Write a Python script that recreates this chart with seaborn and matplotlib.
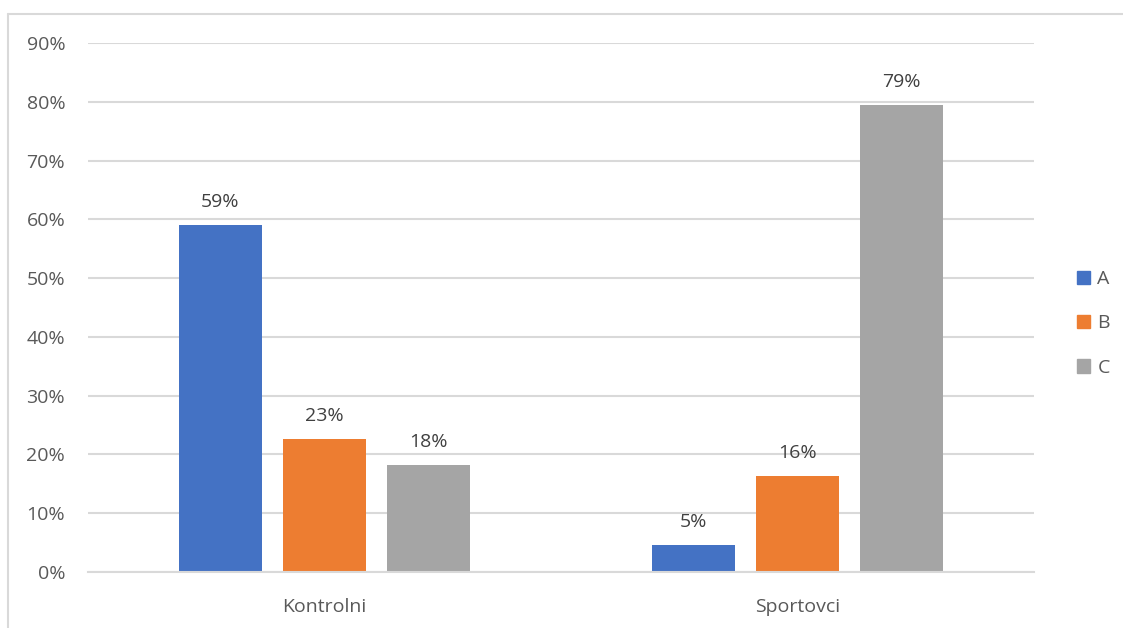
import matplotlib
matplotlib.use("Agg")
import matplotlib.pyplot as plt
import matplotlib.patches as mpatches
from matplotlib.ticker import PercentFormatter, MultipleLocator
import seaborn as sns
import pandas as pd

groups = ["Kontrolni", "Sportovci"]
series = ["A", "B", "C"]
values_kontrolni = [0.591, 0.227, 0.182]
values_sportovci = [0.046, 0.164, 0.794]
colors = ["#4472C4", "#ED7D31", "#A5A5A5"]

rows = []
for g, vals in zip(groups, [values_kontrolni, values_sportovci]):
    for s, v in zip(series, vals):
        rows.append({"group": g, "series": s, "value": v})
df = pd.DataFrame(rows)

sns.set_theme(style="white")
plt.rcParams["font.family"] = ["Open Sans", "DejaVu Sans"]
text_color = "#595959"
grid_color = "#D9D9D9"
fs = 14

fig = plt.figure(figsize=(11.23, 6.28), dpi=100)
ax = fig.add_axes([0.0784, 0.0892, 0.8423, 0.8423])

sns.barplot(data=df, x="group", y="value", hue="series", order=groups,
            hue_order=series, palette=colors, width=0.66, gap=0.21,
            saturation=1, legend=False, linewidth=0, ax=ax)

for cont in ax.containers:
    ax.bar_label(cont, labels=[f"{b.get_height():.0%}" for b in cont],
                 padding=10, fontsize=fs, color="#404040")

ax.set_ylim(0, 0.9)
ax.set_xlim(-0.5, 1.5)
ax.yaxis.set_major_locator(MultipleLocator(0.1))
ax.yaxis.set_major_formatter(PercentFormatter(1.0, decimals=0))
ax.yaxis.grid(True, color=grid_color, linewidth=1.5)
ax.set_axisbelow(True)
ax.set_xlabel("")
ax.set_ylabel("")
for side in ["top", "right", "left"]:
    ax.spines[side].set_visible(False)
ax.spines["bottom"].set_color(grid_color)
ax.spines["bottom"].set_linewidth(1.5)
ax.tick_params(axis="both", length=0, labelsize=fs, labelcolor=text_color)
ax.tick_params(axis="y", pad=16.5)
ax.tick_params(axis="x", pad=19)

handles = [mpatches.Patch(color=c, label=s) for c, s in zip(colors, series)]
fig.legend(handles=handles, loc="center left", bbox_to_anchor=(0.952, 0.485),
           frameon=False, fontsize=fs, labelcolor=text_color,
           handlelength=0.7, handleheight=0.7, handletextpad=0.35,
           labelspacing=1.35, borderaxespad=0)

# chart area border
fig.add_artist(plt.Line2D([8 / 1123, 8 / 1123], [0, 1 - 14 / 628],
                          transform=fig.transFigure, color=grid_color, linewidth=1.5))
fig.add_artist(plt.Line2D([8 / 1123, 1.0], [1 - 14 / 628, 1 - 14 / 628],
                          transform=fig.transFigure, color=grid_color, linewidth=1.5))

fig.savefig("out.png", dpi=100, facecolor="white")
